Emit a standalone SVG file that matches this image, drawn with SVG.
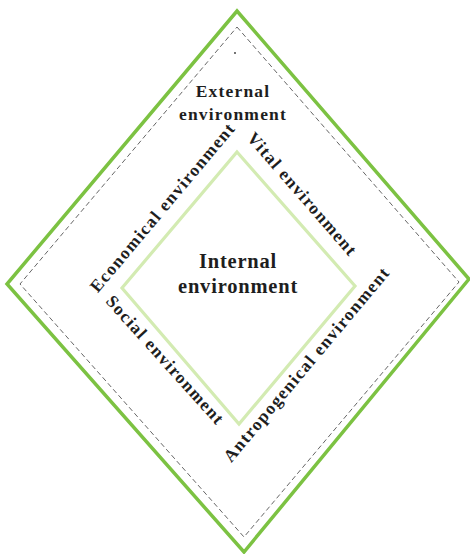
<svg xmlns="http://www.w3.org/2000/svg" width="470" height="554" viewBox="0 0 470 554">
  <style>
    .frame { fill: none; stroke-linejoin: miter; }
    .outer { stroke: #7cc242; stroke-width: 3.5; }
    .border { stroke: #666; stroke-width: 1; stroke-dasharray: 5 3; }
    .inner { stroke: #d3ebb2; stroke-width: 3.2; }
    .lbl { font-family: "Liberation Serif", "Times New Roman", serif; font-weight: bold; fill: #1e1e1e; text-anchor: middle; }
    .side { font-size: 17.5px; letter-spacing: 1.3px; }
    .ext { font-size: 17.5px; letter-spacing: 1.2px; }
    .int { font-size: 20.5px; letter-spacing: 0.8px; }
  </style>

  <!-- external environment: outer diamond with dashed boundary -->
  <g id="external">
    <polygon class="frame outer" points="237,11 469,279 244,552 7,284"/>
    <polygon class="frame border" points="237,27 459,282 244,537 20,284"/>
    <circle cx="235" cy="53" r="0.9" fill="#333"/>
    <text class="lbl ext" x="233" y="97">External</text>
    <text class="lbl ext" x="233" y="120">environment</text>
  </g>

  <!-- internal environment: inner diamond -->
  <g id="internal">
    <polygon class="frame inner" points="237,152 355,286 239,424 122,288"/>
    <text class="lbl int" x="238" y="268">Internal</text>
    <text class="lbl int" x="238" y="293">environment</text>
  </g>

  <!-- the four environments along the inner diamond's edges -->
  <g id="economical">
    <text class="lbl side" transform="translate(167,211) rotate(-50)">Economical environment</text>
  </g>
  <g id="vital">
    <text class="lbl side" transform="translate(298,198) rotate(49)">Vital environment</text>
  </g>
  <g id="social">
    <text class="lbl side" transform="translate(161,364) rotate(48)">Social environment</text>
  </g>
  <g id="antropogenical">
    <text class="lbl side" transform="translate(311,368) rotate(-50)">Antropogenical environment</text>
  </g>
</svg>
